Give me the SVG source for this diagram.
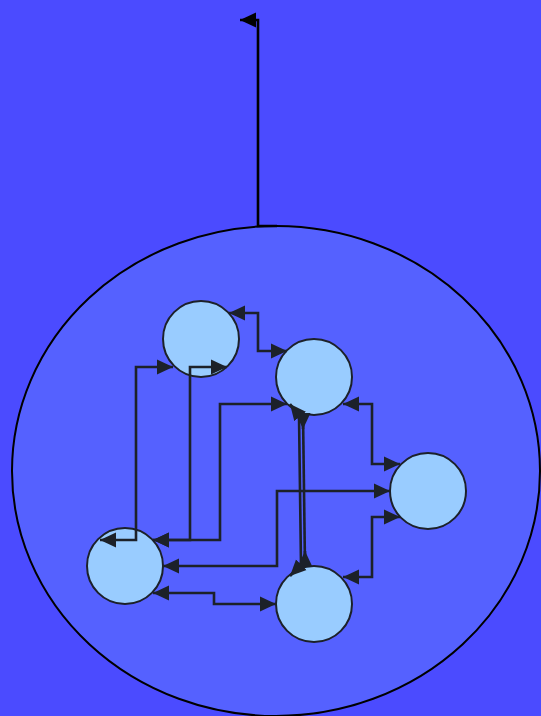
<svg xmlns="http://www.w3.org/2000/svg" width="541" height="716" viewBox="0 0 541 716">
<style>
.node{fill:#99CCFF;stroke:#1C2129;stroke-width:2}
.edge{fill:none;stroke:#1C2129;stroke-width:2.6}
</style>
<defs>
<marker id="arr" markerUnits="userSpaceOnUse" markerWidth="17" markerHeight="16" refX="16" refY="8" orient="auto-start-reverse" viewBox="0 0 17 16">
<path d="M0,0.5 L16,8 L0,15.5 Z" fill="#1C2129"/>
</marker>
<marker id="arrb" markerUnits="userSpaceOnUse" markerWidth="17" markerHeight="16" refX="16" refY="8" orient="auto-start-reverse" viewBox="0 0 17 16">
<path d="M0,0.5 L16,8 L0,15.5 Z" fill="#000"/>
</marker>
</defs>
<rect width="541" height="716" fill="#4B4BFF"/>
<g id="container">
<ellipse cx="276" cy="471" rx="264" ry="245" fill="#5561FF" stroke="#000" stroke-width="2"/>
</g>
<g id="node-a"><circle class="node" cx="201" cy="339" r="38"/></g>
<g id="node-b"><circle class="node" cx="314" cy="377" r="38"/></g>
<g id="node-c"><circle class="node" cx="428" cy="491" r="38"/></g>
<g id="node-d"><circle class="node" cx="125" cy="566" r="38"/></g>
<g id="node-e"><circle class="node" cx="314" cy="604" r="38"/></g>
<g id="connectors">
<path d="M277,226 H258 V20 H240" fill="none" stroke="#000" stroke-width="2.6" marker-end="url(#arrb)"/>
<path class="edge" d="M229,313 H258 V351 H287" marker-start="url(#arr)" marker-end="url(#arr)"/>
<path class="edge" d="M100,540 H136 V367 H173" marker-start="url(#arr)" marker-end="url(#arr)"/>
<path class="edge" d="M153,540 H190 V367 H227" marker-start="url(#arr)" marker-end="url(#arr)"/>
<path class="edge" d="M153,540 H220 V404 H287" marker-start="url(#arr)" marker-end="url(#arr)"/>
<path class="edge" d="M343,404 H372 V464 H400" marker-start="url(#arr)" marker-end="url(#arr)"/>
<path class="edge" d="M400,517 H372 V577 H343" marker-start="url(#arr)" marker-end="url(#arr)"/>
<path class="edge" d="M163,566 H277 V491 H390" marker-start="url(#arr)" marker-end="url(#arr)"/>
<path class="edge" d="M153,593 H214 V604 H276" marker-start="url(#arr)" marker-end="url(#arr)"/>
<path class="edge" d="M290,404 L299,415 L301,565 L290,576" marker-start="url(#arr)" marker-end="url(#arr)"/>
<path class="edge" d="M303,414 L305,566"/>
<path class="edge" d="M303,413 L303,429" marker-end="url(#arr)"/>
<path class="edge" d="M305,567 L305,551" marker-end="url(#arr)"/>
</g>
</svg>
